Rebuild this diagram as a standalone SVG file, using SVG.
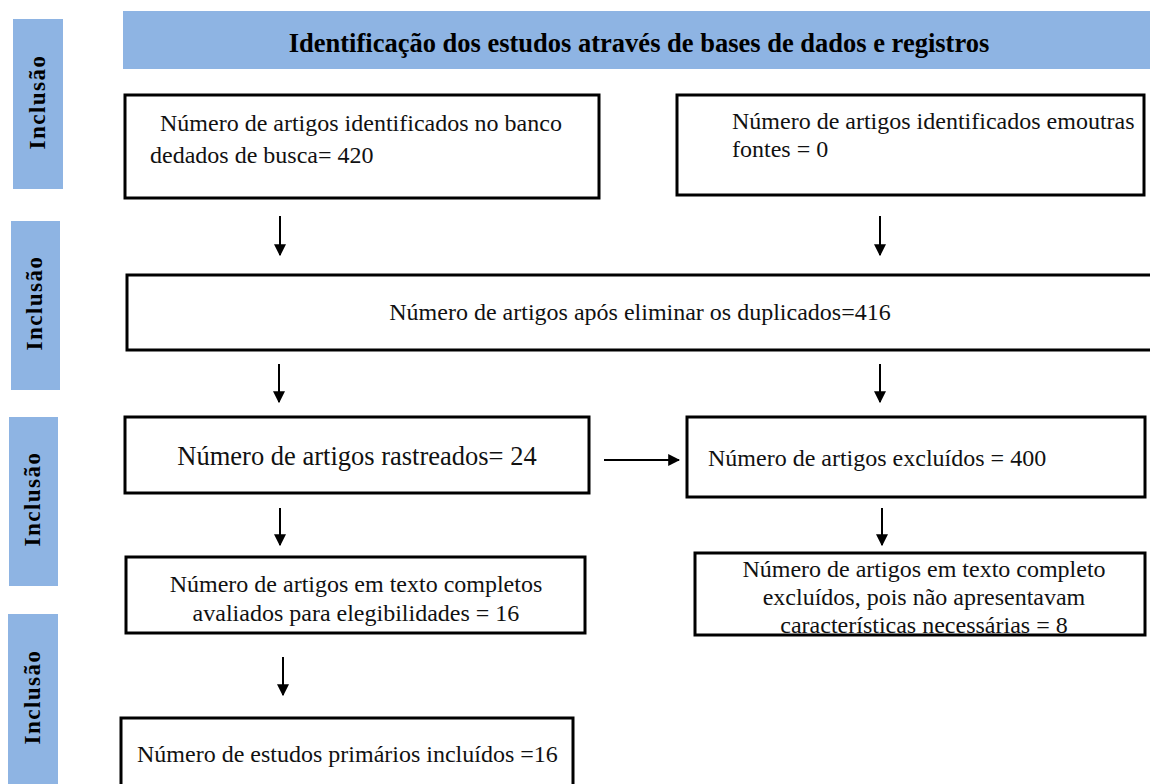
<svg xmlns="http://www.w3.org/2000/svg" width="1150" height="784" viewBox="0 0 1150 784" font-family="Liberation Serif, Tinos, Times New Roman, Noto Serif, DejaVu Serif, serif">
<style>
.bar{fill:#8eb4e3}
.box{fill:#fff;stroke:#000;stroke-width:3}
.t{font-size:24px;fill:#111}
.side{font-size:23px;font-weight:bold;fill:#000;letter-spacing:1.5px}
.hd{font-size:26.5px;font-weight:bold;fill:#000}
.c{stroke:#000;stroke-width:2;fill:none}
</style>
<defs>
<marker id="ah" viewBox="0 0 10 10" refX="9" refY="5" markerWidth="6" markerHeight="6" markerUnits="strokeWidth" orient="auto">
<path d="M0,0 L10,5 L0,10 z" fill="#000"/>
</marker>
</defs>
<rect width="1150" height="784" fill="#fff"/>
<g id="side-labels">
<rect class="bar" x="13" y="19" width="50" height="170"/>
<text class="side" transform="translate(45,102) rotate(-90)" text-anchor="middle">Inclusão</text>
<rect class="bar" x="11" y="221" width="49" height="169"/>
<text class="side" transform="translate(42,303) rotate(-90)" text-anchor="middle">Inclusão</text>
<rect class="bar" x="9" y="417" width="49" height="169"/>
<text class="side" transform="translate(40,499) rotate(-90)" text-anchor="middle">Inclusão</text>
<rect class="bar" x="8" y="614" width="50" height="170"/>
<text class="side" transform="translate(40,697) rotate(-90)" text-anchor="middle">Inclusão</text>
</g>
<g id="header">
<rect class="bar" x="123" y="11" width="1027" height="58"/>
<text class="hd" x="639" y="52" text-anchor="middle">Identificação dos estudos através de bases de dados e registros</text>
</g>
<g id="n1">
<rect class="box" x="125" y="95" width="474" height="103"/>
<text class="t" x="160" y="131">Número de artigos identificados no banco</text>
<text class="t" x="150" y="163">dedados de busca= 420</text>
</g>
<g id="n2">
<rect class="box" x="677" y="95" width="467" height="100"/>
<text class="t" x="732" y="129">Número de artigos identificados emoutras</text>
<text class="t" x="732" y="157">fontes = 0</text>
</g>
<g id="n3">
<path class="box" d="M1152,275 L127,275 L127,350 L1152,350"/>
<text class="t" x="640" y="320" text-anchor="middle">Número de artigos após eliminar os duplicados=416</text>
</g>
<g id="n4">
<rect class="box" x="125" y="417" width="464" height="76"/>
<text class="t" x="357" y="465" text-anchor="middle" style="font-size:26.5px">Número de artigos rastreados= 24</text>
</g>
<g id="n5">
<rect class="box" x="687" y="417" width="458" height="80"/>
<text class="t" x="708" y="466">Número de artigos excluídos = 400</text>
</g>
<g id="n6">
<rect class="box" x="126" y="557" width="459" height="76"/>
<text class="t" x="356" y="592" text-anchor="middle">Número de artigos em texto completos</text>
<text class="t" x="356" y="621" text-anchor="middle">avaliados para elegibilidades = 16</text>
</g>
<g id="n7">
<rect class="box" x="695" y="553" width="450" height="82"/>
<text class="t" x="924" y="577" text-anchor="middle">Número de artigos em texto completo</text>
<text class="t" x="924" y="605" text-anchor="middle">excluídos, pois não apresentavam</text>
<text class="t" x="924" y="633" text-anchor="middle">características necessárias = 8</text>
</g>
<g id="n8">
<path class="box" d="M121,790 L121,718 L573,718 L573,790"/>
<text class="t" x="137" y="762">Número de estudos primários incluídos =16</text>
</g>
<g id="connectors">
<line class="c" x1="280" y1="216" x2="280" y2="255" marker-end="url(#ah)"/>
<line class="c" x1="880" y1="216" x2="880" y2="255" marker-end="url(#ah)"/>
<line class="c" x1="279" y1="364" x2="279" y2="402" marker-end="url(#ah)"/>
<line class="c" x1="880" y1="364" x2="880" y2="402" marker-end="url(#ah)"/>
<line class="c" x1="280" y1="508" x2="280" y2="545" marker-end="url(#ah)"/>
<line class="c" x1="882" y1="508" x2="882" y2="545" marker-end="url(#ah)"/>
<line class="c" x1="283" y1="657" x2="283" y2="695" marker-end="url(#ah)"/>
<line class="c" x1="604" y1="460" x2="679" y2="460" marker-end="url(#ah)"/>
</g>
</svg>
